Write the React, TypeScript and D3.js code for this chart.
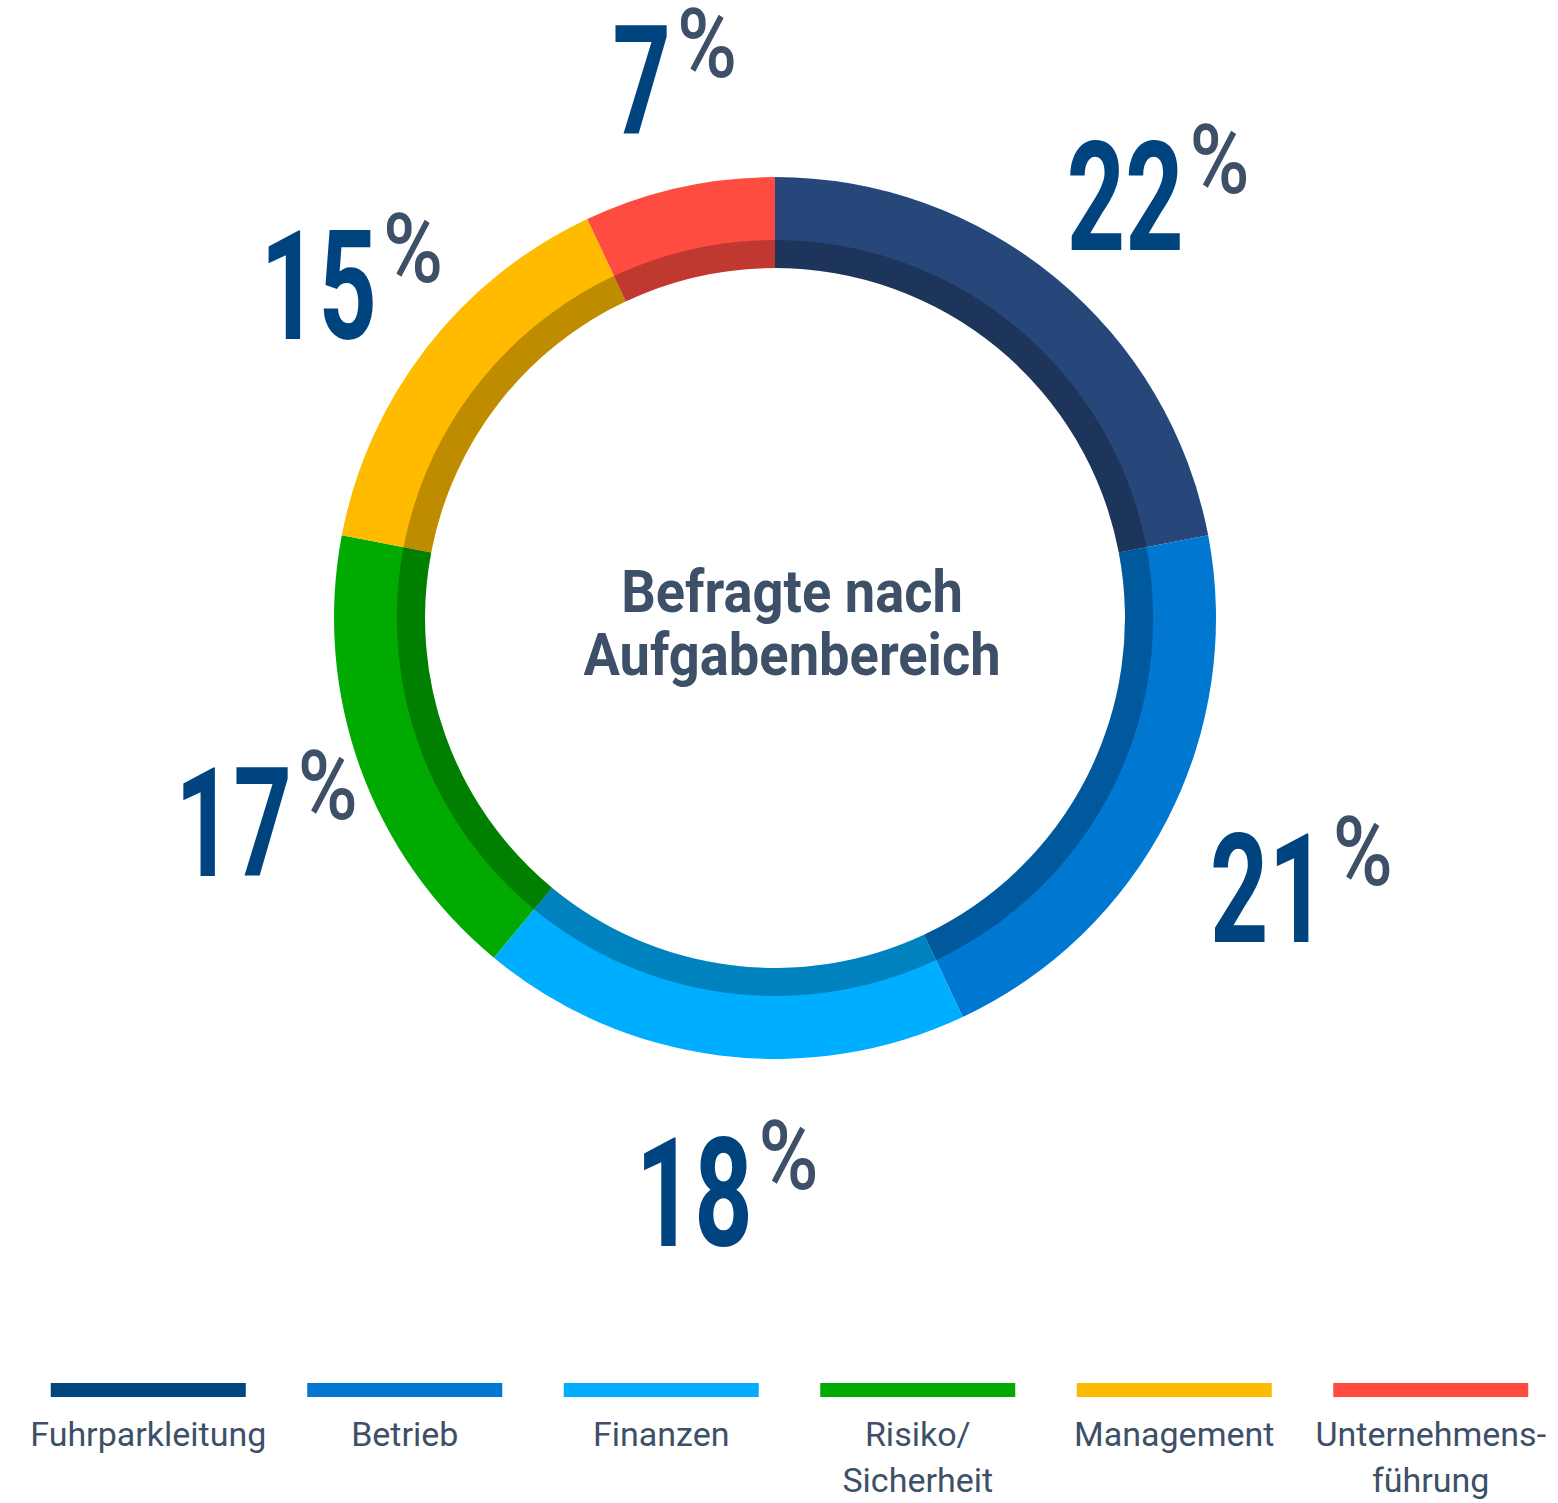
import React, { useEffect, useRef } from 'react';
import * as d3 from 'd3';

const categories = ['Fuhrparkleitung', 'Betrieb', 'Finanzen', 'Risiko/\nSicherheit', 'Management', 'Unternehmens-\nführung'];
const shares = [22, 21, 18, 17, 15, 7];
const arcColors = ['#27477a', '#0077d0', '#00aeff', '#00aa00', '#ffbb00', '#ff4c40'];
const legendColors = ['#00467f', '#0078d2', '#00adff', '#00aa00', '#fcbb00', '#ff4b40'];
const centerTitle = ['Befragte nach', 'Aufgabenbereich'];

const W = 1558;
const H = 1503;
const cx = 775;
const cy = 618;
const outerR = 441;
const innerR = 350;
const shadeR = 378;
const labelR = 565;

const numColor = '#00447f';
const textColor = '#3d5068';
const font = 'Roboto, "Noto Sans", sans-serif';

const App = () => {
  const svgRef = useRef<SVGSVGElement>(null);

  useEffect(() => {
    const svg = d3.select(svgRef.current);
    svg.selectAll('*').remove();

    const pie = d3.pie<number>().sort(null).value(d => d);
    const arcs = pie(shares);
    const arc = d3.arc<d3.PieArcDatum<number>>().innerRadius(innerR).outerRadius(outerR);
    const labelArc = d3.arc<d3.PieArcDatum<number>>().innerRadius(labelR).outerRadius(labelR);

    const g = svg.append('g').attr('transform', `translate(${cx},${cy})`);

    g.selectAll('path.slice')
      .data(arcs)
      .enter()
      .append('path')
      .attr('class', 'slice')
      .attr('d', arc)
      .attr('fill', (d, i) => arcColors[i]);

    // darker inner band
    g.append('path')
      .attr('d', d3.arc()({ innerRadius: innerR, outerRadius: shadeR, startAngle: 0, endAngle: 2 * Math.PI }) as string)
      .attr('fill', '#000')
      .attr('fill-opacity', 0.25);

    // center title
    const title = g.append('text')
      .attr('transform', 'translate(17,0) scale(0.92,1)')
      .attr('text-anchor', 'middle')
      .attr('font-family', font)
      .attr('font-weight', 700)
      .attr('font-size', 59)
      .attr('fill', textColor);
    centerTitle.forEach((t, i) => {
      title.append('tspan').attr('x', 0).attr('y', i === 0 ? -6 : 57).text(t);
    });

    // percent labels (slightly shifted from ring centre)
    const lab = g.append('g').attr('transform', 'translate(-10,13)');
    arcs.forEach((d, i) => {
      const [lx, ly] = labelArc.centroid(d);
      const lg = lab.append('g').attr('transform', `translate(${lx},${ly})`);
      const num = lg.append('text')
        .attr('transform', 'scale(0.67,1)')
        .attr('text-anchor', 'middle')
        .attr('y', 54)
        .attr('font-family', font)
        .attr('font-weight', 700)
        .attr('font-size', 152)
        .attr('fill', numColor)
        .text(String(shares[i]));
      const bb = (num.node() as SVGTextElement).getBBox();
      const right = (bb.x + bb.width) * 0.67;
      lg.append('text')
        .attr('transform', `translate(${right + 6},0) scale(0.85,1)`)
        .attr('y', -3)
        .attr('font-family', font)
        .attr('font-weight', 500)
        .attr('font-size', 96)
        .attr('fill', textColor)
        .text('%');
    });

    // legend
    const x = d3.scaleBand<string>().domain(categories).range([20, 1559]);
    const bw = 195;
    const leg = svg.append('g');
    categories.forEach((c, i) => {
      const mx = (x(c) as number) + x.bandwidth() / 2;
      leg.append('rect')
        .attr('x', mx - bw / 2)
        .attr('y', 1383)
        .attr('width', bw)
        .attr('height', 14)
        .attr('fill', legendColors[i]);
      const t = leg.append('text')
        .attr('text-anchor', 'middle')
        .attr('font-family', font)
        .attr('font-size', 34)
        .attr('fill', textColor);
      c.split('\n').forEach((line, j) => {
        t.append('tspan').attr('x', mx).attr('y', 1446 + j * 46).text(line);
      });
    });
  }, []);

  return (
    <svg
      ref={svgRef}
      width={W}
      height={H}
      style={{ position: 'absolute', left: 0, top: 0, background: '#fff' }}
    />
  );
};

export default App;
